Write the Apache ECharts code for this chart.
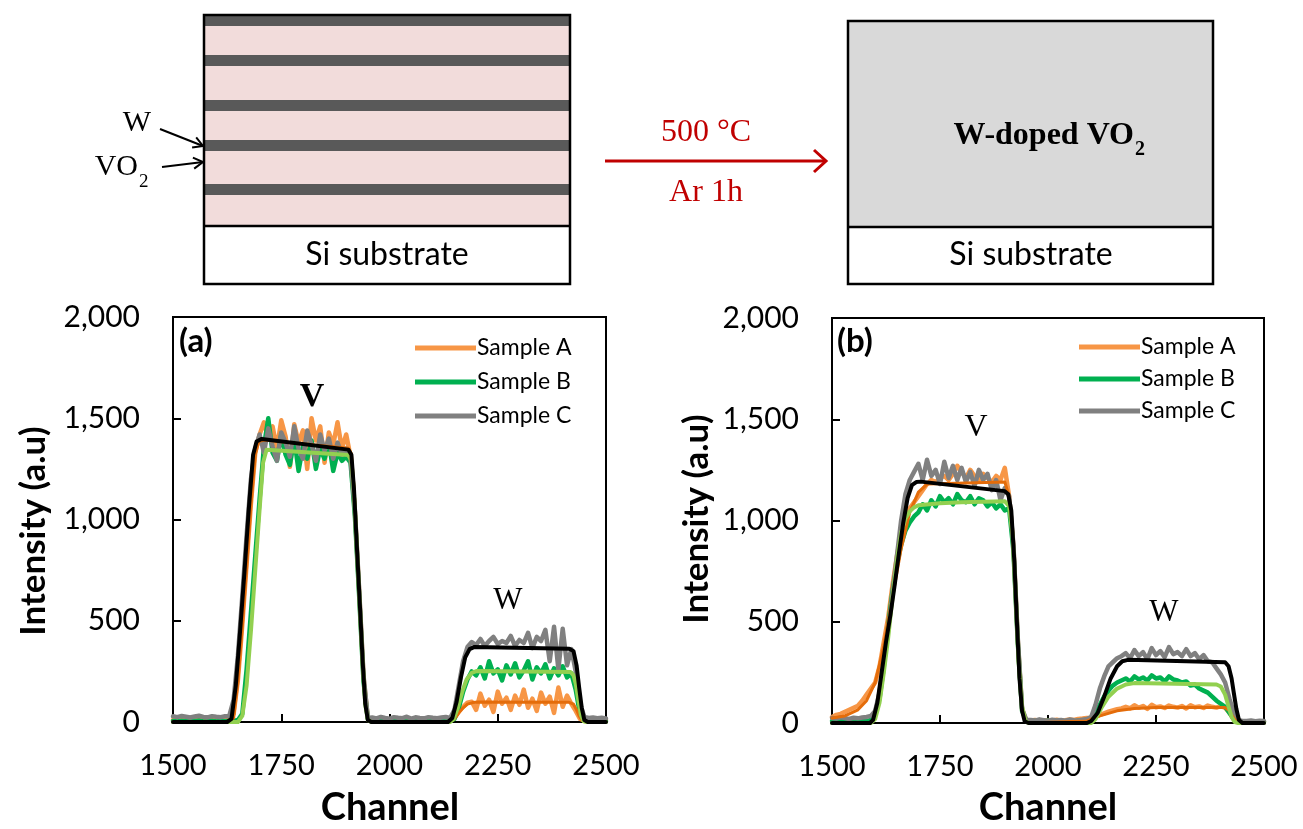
<!DOCTYPE html>
<html><head><meta charset="utf-8">
<script src="https://cdn.jsdelivr.net/npm/echarts@6/dist/echarts.min.js"></script>
<style>html,body{margin:0;padding:0;background:#fff}#c{width:1303px;height:829px}</style>
</head><body><div id="c"></div><script>
// ---------- data ----------
const channels = [1500,1510,1520,1530,1540,1550,1560,1570,1580,1590,1600,1610,1620,1630,1640,1650,1660,1670,1680,1690,1700,1710,1720,1730,1740,1750,1760,1770,1780,1790,1800,1810,1820,1830,1840,1850,1860,1870,1880,1890,1900,1910,1920,1930,1940,1950,1960,1970,1980,1990,2000,2010,2020,2030,2040,2050,2060,2070,2080,2090,2100,2110,2120,2130,2140,2150,2160,2170,2180,2190,2200,2210,2220,2230,2240,2250,2260,2270,2280,2290,2300,2310,2320,2330,2340,2350,2360,2370,2380,2390,2400,2410,2420,2430,2440,2450,2460,2470,2480,2490,2500];
const xTicks = [1500,1750,2000,2250,2500];
const yTicks = [0,500,1000,1500,2000];
const legendNames = ['Sample A','Sample B','Sample C'];

// (a) measured spectra
const aSampleA = [10,8,12,9,7,11,13,9,8,12,10,9,14,15,
 40,210,480,780,1080,1330,
 1420,1480,1400,1460,1350,1490,1410,1260,1470,1380,1440,1250,1500,1390,1460,1280,1430,1370,1480,1350,1420,
 1310,1040,640,220,18,
 10,8,12,9,11,7,13,10,9,12,8,11,10,9,12,8,11,10,9,
 20,50,75,95,
 100,60,140,80,110,50,150,90,120,60,130,85,160,70,115,55,145,90,125,45,170,75,130,
 90,55,15,
 8,10,7,9,8,10];
const aSampleB = [5,3,6,4,2,5,7,3,4,6,3,5,4,6,
 5,10,40,260,540,820,
 1100,1360,1500,1330,1290,1420,1320,1270,1400,1240,1360,1300,1390,1250,1350,1300,1380,1240,1330,1290,1310,
 1280,1020,620,200,15,
 5,3,6,4,2,5,4,6,3,5,4,2,6,3,5,4,6,3,5,
 15,70,150,210,
 250,230,270,215,300,240,260,205,280,235,290,220,255,300,210,270,240,285,215,265,230,275,220,
 240,160,40,
 8,5,6,3,5,4];
const aSampleC = [28,24,30,26,22,27,31,25,23,29,26,24,28,30,
 110,330,620,920,1200,1350,
 1420,1330,1450,1360,1290,1430,1380,1310,1460,1350,1300,1440,1370,1290,1420,1340,1400,1300,1380,1320,1350,
 1300,1050,650,230,20,
 22,18,25,20,16,24,21,19,26,17,23,20,18,24,21,19,22,25,20,
 60,180,300,370,
 395,380,410,375,400,420,385,400,390,425,375,405,390,440,365,420,400,455,300,470,260,460,280,
 360,250,90,
 25,20,22,19,21,18];

// (a) fitted curves
const aFitAx = [1500,1630,1640,1650,1660,1670,1680,1690,1698,1710,1905,1912,1918,1925,1932,1938,1944,1950,1958,2140,2150,2160,2170,2180,2192,2205,2415,2425,2432,2438,2444,2450,2500];
const aFitAy = [0,0,20,200,470,760,1070,1320,1385,1392,1352,1325,1160,860,565,305,90,10,0,0,15,45,70,88,96,99,97,88,60,30,10,0,0];
const aFitBx = [1500,1650,1660,1670,1680,1690,1700,1708,1716,1905,1912,1918,1925,1932,1938,1944,1950,1958,2140,2148,2158,2168,2178,2190,2202,2418,2425,2430,2436,2442,2448,2455,2500];
const aFitBy = [0,0,30,180,450,750,1050,1280,1345,1318,1290,1130,840,550,290,85,10,0,0,15,70,150,210,243,252,247,230,190,110,35,5,0,0];
const aFitCx = [1500,1625,1635,1645,1655,1665,1675,1685,1693,1705,1905,1912,1918,1925,1932,1938,1944,1950,1958,2135,2145,2155,2165,2175,2185,2195,2415,2425,2432,2438,2444,2450,2458,2500];
const aFitCy = [0,0,15,180,450,740,1050,1320,1385,1398,1345,1320,1150,850,560,300,90,10,0,0,20,100,220,320,360,370,362,350,280,170,70,10,0,0];

// (b) measured spectra
const bSampleA = [30,40,45,55,65,75,85,110,140,170,
 200,280,400,520,680,820,940,1020,1060,1090,
 1120,1150,1180,1200,1190,1210,1220,1200,1230,1270,1240,1210,1250,1220,1200,1230,1210,1190,1220,1200,1260,
 1120,870,410,65,12,
 12,15,10,14,11,13,16,12,14,18,15,20,22,25,
 25,32,40,48,56,62,68,72,
 80,72,88,76,84,70,90,78,82,74,86,80,76,84,72,88,78,82,74,86,80,76,84,
 75,50,20,8,5,
 5,6,4,5,6];
const bSampleB = [10,8,12,9,11,8,10,12,9,15,
 40,120,280,480,650,780,880,950,990,1020,
 1040,1080,1050,1100,1070,1120,1090,1110,1080,1130,1100,1090,1120,1080,1110,1100,1070,1090,1060,1080,1050,
 1060,850,400,60,10,
 8,10,7,9,11,8,10,9,7,10,8,11,9,12,
 20,50,90,130,160,185,200,210,
 220,205,230,215,225,210,235,220,225,205,230,215,210,200,205,185,190,170,160,150,130,110,95,
 80,50,20,8,5,
 5,6,4,5,6];
const bSampleC = [25,22,28,24,20,26,23,27,30,35,
 60,150,300,460,640,820,1000,1130,1200,1240,
 1280,1200,1300,1220,1250,1180,1290,1210,1270,1200,1260,1190,1240,1170,1250,1200,1230,1150,1200,1100,1160,
 1120,880,420,70,15,
 15,12,18,14,10,16,13,15,11,17,14,12,16,20,
 30,90,170,230,280,300,320,330,
 345,320,360,330,350,315,370,335,355,325,375,340,350,330,365,330,345,315,335,305,300,270,240,
 200,120,50,15,10,
 10,12,9,11,10];

// (b) fitted curves
const bFitAx = [1500,1530,1560,1580,1600,1620,1640,1660,1680,1700,1720,1900,1910,1918,1925,1932,1940,1948,1955,2090,2120,2160,2200,2250,2410,2420,2428,2435,2445,2500];
const bFitAy = [25,35,65,110,200,380,620,860,1040,1140,1180,1190,1120,950,650,300,80,10,0,10,35,60,72,76,76,60,30,10,0,0];
const bFitBx = [1500,1590,1600,1610,1620,1630,1640,1650,1660,1670,1680,1690,1700,1750,1800,1900,1910,1918,1925,1932,1940,1948,1955,2100,2110,2125,2140,2160,2180,2200,2390,2400,2410,2418,2425,2432,2440,2500];
const bFitBy = [0,0,20,100,250,420,620,800,940,1010,1045,1065,1075,1085,1090,1095,1070,930,640,300,80,10,0,0,20,80,130,170,190,197,190,180,140,80,30,5,0,0];
const bFitCx = [1500,1588,1595,1605,1615,1625,1635,1645,1655,1665,1675,1685,1695,1705,1900,1908,1915,1922,1928,1934,1940,1946,1955,2090,2100,2115,2130,2145,2160,2172,2185,2410,2418,2425,2430,2436,2442,2450,2500];
const bFitCy = [0,0,15,100,250,400,530,680,840,990,1110,1175,1190,1192,1145,1130,1050,800,500,220,60,8,0,0,10,50,130,220,280,305,312,300,280,220,150,70,15,0,0];

// ---------- styles ----------
const C_ORANGE = '#F79646', C_ORANGE_FIT = '#E46C0A';
const C_GREEN = '#00B050', C_GREEN_FIT = '#92D050';
const C_GRAY = '#808080', C_BLACK = '#000000';
const SANS = 'Lato', SERIF = 'Liberation Serif';

function pts(xs, ys) { return xs.map((x, i) => [x, ys[i]]); }
function lineSeries(name, idx, data, color, width, z) {
  return { name, type: 'line', xAxisIndex: idx, yAxisIndex: idx, data,
    symbol: 'none', showSymbol: false, smooth: false, z,
    lineStyle: { color, width, join: 'round', cap: 'round' }, itemStyle: { color },
    emphasis: { disabled: true }, silent: true };
}
function xAx(idx) {
  return { type: 'value', gridIndex: idx, min: xTicks[0], max: xTicks[xTicks.length - 1], interval: 250,
    axisLine: { show: true, onZero: false, lineStyle: { color: '#000', width: 2 } },
    axisTick: { show: true, inside: true, length: 8, lineStyle: { color: '#000', width: 2 } },
    axisLabel: { color: '#000', fontFamily: SANS, fontSize: 29, margin: 29, formatter: v => String(v) },
    splitLine: { show: false } };
}
function yAx(idx) {
  return { type: 'value', gridIndex: idx, min: yTicks[0], max: yTicks[yTicks.length - 1], interval: 500,
    axisLine: { show: true, lineStyle: { color: '#000', width: 2 } },
    axisTick: { show: true, inside: true, length: 8, lineStyle: { color: '#000', width: 2 } },
    axisLabel: { color: '#000', fontFamily: SANS, fontSize: 30, margin: 33,
      formatter: v => v.toLocaleString('en-US') },
    splitLine: { show: false } };
}
function txt(x, y, text, font, opts) {
  return Object.assign({ type: 'text', x, y, silent: true,
    style: Object.assign({ text, font, fill: '#000', align: 'center', verticalAlign: 'middle' }, (opts && opts.style) || {}) },
    (opts && opts.el) || {});
}
function rect(x, y, w, h, style) { return { type: 'rect', silent: true, shape: { x, y, width: w, height: h }, style }; }
function ln(x1, y1, x2, y2, stroke, w) { return { type: 'line', silent: true, shape: { x1, y1, x2, y2 }, style: { stroke, lineWidth: w } }; }
function pl(points, stroke, w) { return { type: 'polyline', silent: true, shape: { points }, style: { stroke, lineWidth: w, fill: null } }; }

const graphics = [
  // left schematic
  rect(204, 15, 366, 211, { fill: '#F2DCDB' }),
  rect(204, 15, 366, 11, { fill: '#595959' }),
  rect(204, 55, 366, 11, { fill: '#595959' }),
  rect(204, 100, 366, 11, { fill: '#595959' }),
  rect(204, 140, 366, 11, { fill: '#595959' }),
  rect(204, 184, 366, 11, { fill: '#595959' }),
  rect(204, 226, 366, 58, { fill: '#fff' }),
  rect(204, 15, 366, 269, { fill: null, stroke: '#000', lineWidth: 2.5 }),
  ln(204, 226, 570, 226, '#000', 2.5),
  txt(387, 255, 'Si substrate', '32px ' + SANS),
  txt(137, 123, 'W', '30px ' + SERIF),
  txt(138, 167, 'VO', '30px ' + SERIF, { style: { align: 'right' } }),
  txt(139, 182, '2', '19px ' + SERIF, { style: { align: 'left' } }),
  ln(160, 129, 203, 146, '#000', 2),
  pl([[196.2, 137.4], [203, 146], [192.1, 147.6]], '#000', 2),
  ln(162, 167, 203, 162, '#000', 2),
  pl([[192.9, 157.7], [203, 162], [194.2, 168.6]], '#000', 2),
  // process arrow
  ln(605, 161, 825, 161, '#C00000', 3),
  pl([[814, 150], [826, 161], [814, 172]], '#C00000', 3),
  txt(706, 133, '500 °C', '32px ' + SERIF, { style: { fill: '#C00000' } }),
  txt(706, 193, 'Ar 1h', '32px ' + SERIF, { style: { fill: '#C00000' } }),
  // right schematic
  rect(848, 21, 365, 206, { fill: '#D9D9D9' }),
  rect(848, 227, 365, 57, { fill: '#fff' }),
  rect(848, 21, 365, 263, { fill: null, stroke: '#000', lineWidth: 2.5 }),
  ln(848, 227, 1213, 227, '#000', 2.5),
  txt(1134, 136, 'W-doped VO', 'bold 32px ' + SERIF, { style: { align: 'right' } }),
  txt(1135, 150, '2', 'bold 20px ' + SERIF, { style: { align: 'left' } }),
  txt(1031, 255, 'Si substrate', '32px ' + SANS),
  // chart annotations
  txt(179, 341, '(a)', 'bold 33px ' + SANS, { style: { align: 'left' } }),
  txt(837, 341, '(b)', 'bold 33px ' + SANS, { style: { align: 'left' } }),
  txt(312, 397, 'V', 'bold 34px ' + SERIF),
  txt(508, 601, 'W', '31px ' + SERIF),
  txt(976, 428, 'V', '32px ' + SERIF),
  txt(1164, 613, 'W', '31px ' + SERIF),
  txt(390, 808, 'Channel', 'bold 38px ' + SANS),
  txt(1048, 808, 'Channel', 'bold 38px ' + SANS),
  txt(34, 531, 'Intensity (a.u)', 'bold 35px ' + SANS, { el: { rotation: Math.PI / 2 } }),
  txt(697, 519, 'Intensity (a.u)', 'bold 35px ' + SANS, { el: { rotation: Math.PI / 2 } })
];

function legendCfg(left, top, gap) {
  return { data: legendNames, orient: 'vertical', left, top, itemWidth: 61, itemHeight: 5, itemGap: gap,
    icon: 'rect', selectedMode: false,
    textStyle: { fontFamily: SANS, fontSize: 23, color: '#000', lineHeight: 24, padding: [0, 0, 0, -4] } };
}

const option = {
  animation: false,
  backgroundColor: '#fff',
  grid: [
    { left: 173, top: 317, width: 433, height: 405, show: true, borderColor: '#000', borderWidth: 2, outerBoundsMode: 'none', containLabel: false },
    { left: 832, top: 318, width: 432, height: 405, show: true, borderColor: '#000', borderWidth: 2, outerBoundsMode: 'none', containLabel: false }
  ],
  xAxis: [xAx(0), xAx(1)],
  yAxis: [yAx(0), yAx(1)],
  legend: [legendCfg(410, 331, 10), legendCfg(1074, 330, 8)],
  series: [
    lineSeries('Sample A', 0, pts(channels, aSampleA), C_ORANGE, 4.5, 2),
    lineSeries('Sample B', 0, pts(channels, aSampleB), C_GREEN, 4.5, 3),
    lineSeries('Sample C', 0, pts(channels, aSampleC), C_GRAY, 4.5, 4),
    lineSeries('Fit A', 0, pts(aFitAx, aFitAy), C_ORANGE_FIT, 3, 5),
    lineSeries('Fit B', 0, pts(aFitBx, aFitBy), C_GREEN_FIT, 4, 6),
    lineSeries('Fit C', 0, pts(aFitCx, aFitCy), C_BLACK, 4, 7),
    lineSeries('Sample A', 1, pts(channels, bSampleA), C_ORANGE, 4.5, 2),
    lineSeries('Sample B', 1, pts(channels, bSampleB), C_GREEN, 4.5, 3),
    lineSeries('Sample C', 1, pts(channels, bSampleC), C_GRAY, 4.5, 4),
    lineSeries('Fit A', 1, pts(bFitAx, bFitAy), C_ORANGE_FIT, 3, 5),
    lineSeries('Fit B', 1, pts(bFitBx, bFitBy), C_GREEN_FIT, 4, 6),
    lineSeries('Fit C', 1, pts(bFitCx, bFitCy), C_BLACK, 4, 7)
  ],
  graphic: graphics
};
const chart = echarts.init(document.getElementById('c'), null, { renderer: 'canvas' });
chart.setOption(option);
</script></body></html>
